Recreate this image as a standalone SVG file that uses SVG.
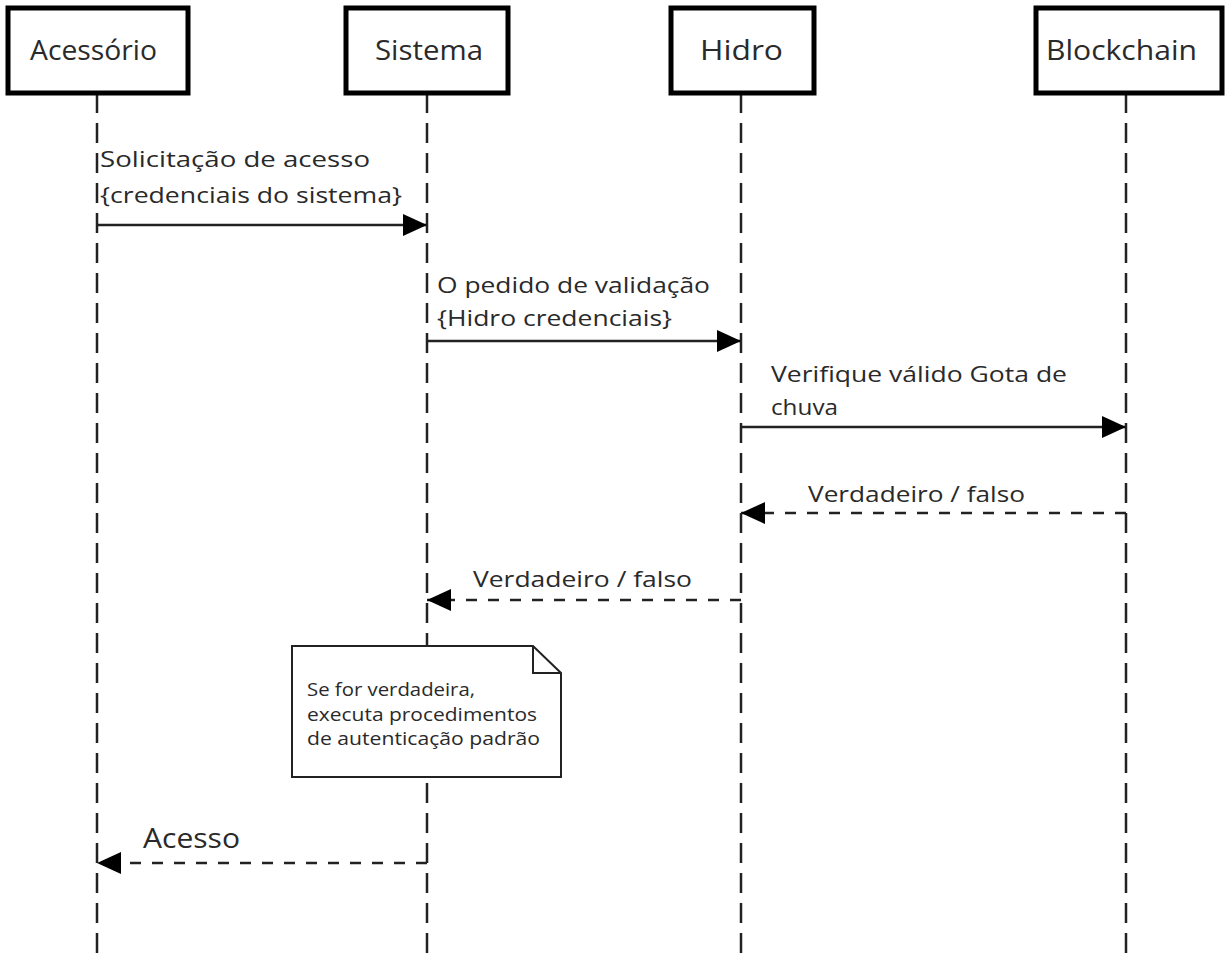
<svg xmlns="http://www.w3.org/2000/svg" width="1225" height="962" viewBox="0 0 1225 962">
<defs>
<style>
.box{fill:#fff;stroke:#000;stroke-width:5}
.life{stroke:#222;stroke-width:2.5;stroke-dasharray:20 10;fill:none}
.msg{stroke:#222;stroke-width:2.5;fill:none}
.ret{stroke:#222;stroke-width:2.5;stroke-dasharray:11 11;fill:none}
.t{font-family:"Open Sans","Noto Sans",sans-serif;fill:#2a2a2a}
.h{font-size:28px}
.m{font-size:22px}
.n{font-size:18px}
</style>
<marker id="ah" viewBox="0 0 24 22" refX="24" refY="11" markerWidth="24" markerHeight="22" markerUnits="userSpaceOnUse" orient="auto">
<path d="M0,0 L24,11 L0,22 Z" fill="#000"/>
</marker>
</defs>
<g id="lifelines">
<line class="life" x1="97" y1="93" x2="97" y2="962"/>
<line class="life" x1="427" y1="93" x2="427" y2="962"/>
<line class="life" x1="741" y1="93" x2="741" y2="962"/>
<line class="life" x1="1126" y1="93" x2="1126" y2="962"/>
</g>
<g id="acessorio"><rect class="box" x="8" y="8" width="180" height="85"/><text class="t h" x="30" y="60" textLength="127" lengthAdjust="spacingAndGlyphs">Acessório</text></g>
<g id="sistema"><rect class="box" x="346" y="8" width="162" height="85"/><text class="t h" x="375" y="60" textLength="108" lengthAdjust="spacingAndGlyphs">Sistema</text></g>
<g id="hidro"><rect class="box" x="671" y="8" width="143" height="85"/><text class="t h" x="700" y="60" textLength="83" lengthAdjust="spacingAndGlyphs">Hidro</text></g>
<g id="blockchain"><rect class="box" x="1036" y="8" width="186" height="85"/><text class="t h" x="1046" y="60" textLength="151" lengthAdjust="spacingAndGlyphs">Blockchain</text></g>
<g id="connectors">
<line class="msg" x1="97" y1="225" x2="427" y2="225" marker-end="url(#ah)"/>
<line class="msg" x1="427" y1="341" x2="741" y2="341" marker-end="url(#ah)"/>
<line class="msg" x1="741" y1="427" x2="1126" y2="427" marker-end="url(#ah)"/>
<line class="ret" x1="1126" y1="513" x2="741" y2="513" marker-end="url(#ah)"/>
<line class="ret" x1="741" y1="600" x2="427" y2="600" marker-end="url(#ah)"/>
<line class="ret" x1="427" y1="863" x2="97" y2="863" marker-end="url(#ah)"/>
</g>
<g id="labels">
<text class="t m" x="100" y="167" textLength="270" lengthAdjust="spacingAndGlyphs">Solicitação de acesso</text>
<text class="t m" x="100" y="203" textLength="302" lengthAdjust="spacingAndGlyphs">{credenciais do sistema}</text>
<text class="t m" x="437" y="293" textLength="273" lengthAdjust="spacingAndGlyphs">O pedido de validação</text>
<text class="t m" x="437" y="326" textLength="235" lengthAdjust="spacingAndGlyphs">{Hidro credenciais}</text>
<text class="t m" x="771" y="382" textLength="296" lengthAdjust="spacingAndGlyphs">Verifique válido Gota de</text>
<text class="t m" x="771" y="415" textLength="67" lengthAdjust="spacingAndGlyphs">chuva</text>
<text class="t m" x="808" y="502" textLength="217" lengthAdjust="spacingAndGlyphs">Verdadeiro / falso</text>
<text class="t m" x="473" y="587" textLength="219" lengthAdjust="spacingAndGlyphs">Verdadeiro / falso</text>
<text class="t" x="143" y="848" font-size="27" textLength="97" lengthAdjust="spacingAndGlyphs">Acesso</text>
</g>
<g id="note">
<path d="M292,646 L533,646 L561,673 L561,777 L292,777 Z" fill="#fff" stroke="#222" stroke-width="2"/>
<path d="M533,646 L533,673 L561,673" fill="none" stroke="#222" stroke-width="2"/>
<text class="t n" x="307" y="696" textLength="168" lengthAdjust="spacingAndGlyphs">Se for verdadeira,</text>
<text class="t n" x="307" y="721" textLength="230" lengthAdjust="spacingAndGlyphs">executa procedimentos</text>
<text class="t n" x="307" y="745" textLength="233" lengthAdjust="spacingAndGlyphs">de autenticação padrão</text>
</g>
</svg>
